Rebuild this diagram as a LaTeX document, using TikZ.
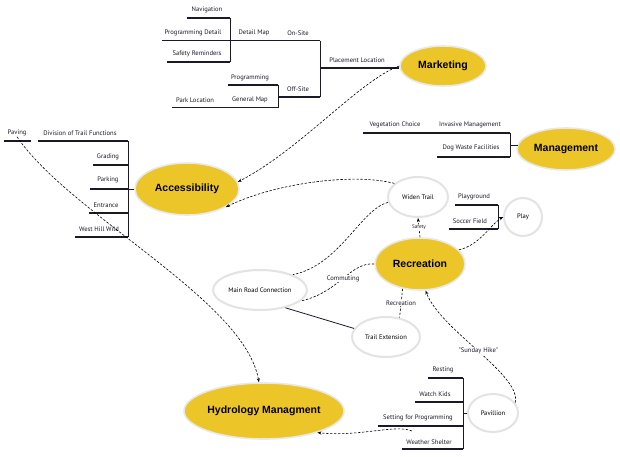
\documentclass[tikz,border=0pt]{standalone}
\usepackage{fontspec}
\setmainfont{Liberation Sans}
\newfontfamily\labfont{PT Sans}
\usetikzlibrary{arrows.meta,shapes.geometric}
\definecolor{gold}{RGB}{236,198,40}
\definecolor{ink}{RGB}{25,25,40}
\begin{document}
\begin{tikzpicture}[x=1pt,y=-1pt,
  big/.style={ellipse, fill=gold, draw=gray!18, line width=1.6pt, inner sep=0pt,
    font=\bfseries\fontsize{10.5}{12}\selectfont},
  sub/.style={ellipse, fill=white, draw=gray!22, line width=2pt, inner sep=0pt,
    font=\labfont\fontsize{6.6}{8}\selectfont},
  lab/.style={inner sep=0.5pt, font=\labfont\fontsize{6.6}{8}\selectfont, text=ink},
  clab/.style={inner sep=0.8pt, fill=white, font=\labfont\fontsize{6.6}{8}\selectfont, text=ink},
  uline/.style={line width=1.1pt, draw=ink},
  bline/.style={line width=0.8pt, draw=ink},
  dcon/.style={draw=black, line width=0.6pt, dash pattern=on 2.4pt off 1.6pt},
  arr/.style={-{Stealth[length=4pt,width=3pt]}}
]
\useasboundingbox (0,0) rectangle (620,456);

% ---------- big ellipses
\node[big, minimum width=86pt, minimum height=40pt] (marketing) at (443,66) {Marketing};
\node[big, minimum width=104pt, minimum height=52pt] (access) at (187,189) {Accessibility};
\node[big, minimum width=98pt, minimum height=42pt] (manage) at (566,149) {Management};
\node[big, minimum width=90pt, minimum height=52pt] (recre) at (420,264) {Recreation};
\node[big, minimum width=152pt, minimum height=56pt] (hydro) at (264,411) {Hydrology Managment};

% ---------- white ellipses
\node[sub, minimum width=60pt, minimum height=40pt] (widen) at (418,197) {Widen Trail};
\node[sub, minimum width=38pt, minimum height=38pt] (play) at (523,217) {Play};
\node[sub, minimum width=94pt, minimum height=40pt] (mainroad) at (260,290) {Main Road Connection};
\node[sub, minimum width=68pt, minimum height=40pt] (trailext) at (386,337) {Trail Extension};
\node[sub, minimum width=50pt, minimum height=38pt] (pav) at (493,413) {Pavillion};

% ---------- Marketing tree
\node[lab] (nav) at (207,10) {Navigation};
\node[lab] (progdet) at (193,33) {Programming Detail};
\node[lab] (safetyrem) at (197,54) {Safety Reminders};
\node[lab] (detmap) at (254,33) {Detail Map};
\node[lab] (onsite) at (298,33) {On-Site};
\node[lab] (prog) at (250,78) {Programming};
\node[lab] (genmap) at (250,100) {General Map};
\node[lab] (offsite) at (298,89) {Off-Site};
\node[lab] (parkloc) at (195,100) {Park Location};
\node[lab] (placement) at (357,60) {Placement Location};

\draw[uline] (187,18) -- (230,18);
\draw[uline] (162,40.5) -- (320,40.5);
\draw[uline] (167,62) -- (230,62);
\draw[bline] (230,18) -- (230,62);
\draw[bline] (320,40.5) -- (320,97);
\draw[uline] (278,97) -- (320,97);
\draw[uline] (320,68) -- (marketing.west |- 0,68);
\draw[uline] (228,85) -- (278,85);
\draw[uline] (172,107.5) -- (278,107.5);
\draw[bline] (278,85) -- (278,107.5);

% ---------- Accessibility tree
\node[lab] (paving) at (17,133) {Paving};
\node[lab] (division) at (80,133) {Division of Trail Functions};
\node[lab] (grading) at (108,157) {Grading};
\node[lab] (parking) at (108,180) {Parking};
\node[lab] (entrance) at (106,205) {Entrance};
\node[lab] (westhill) at (99,229) {West Hill Wild};

\draw[uline] (4,141) -- (31,141);
\draw[uline] (38,141) -- (128,141);
\draw[bline] (128,141) -- (128,237);
\draw[uline] (93,165) -- (128,165);
\draw[uline] (90,189) -- (128,189);
\draw[bline] (128,189) -- (access.west);
\draw[uline] (89,213) -- (128,213);
\draw[uline] (75,237) -- (128,237);

% ---------- Management tree
\node[lab] (veg) at (395,125) {Vegetation Choice};
\node[lab] (invasive) at (470,125) {Invasive Management};
\node[lab] (dog) at (471,148) {Dog Waste Facilities};

\draw[uline] (363,133) -- (510,133);
\draw[bline] (510,133) -- (510,157);
\draw[uline] (437,157) -- (510,157);
\draw[bline] (510,145) -- (517.5,145);

% ---------- Play tree
\node[lab] (playground) at (474,197) {Playground};
\node[lab] (soccer) at (470,221) {Soccer Field};
\draw[uline] (455,205) -- (498,205);
\draw[bline] (498,205) -- (498,229);
\draw[uline] (449,229) -- (498,229);
\draw[bline] (498,217) -- (play.west);

% ---------- Pavilion tree
\node[lab] (resting) at (443,370) {Resting};
\node[lab] (watch) at (435,394) {Watch Kids};
\node[lab] (setting) at (418,418) {Setting for Programming};
\node[lab] (weather) at (429,442) {Weather Shelter};
\draw[bline] (463,378) -- (463,449);
\draw[uline] (428,378) -- (463,378);
\draw[uline] (415,402) -- (463,402);
\draw[uline] (378,426) -- (463,426);
\draw[uline] (402,449) -- (463,449);
\draw[bline] (463,413) -- (pav.west);

% ---------- connectors
\draw[dcon, arr] (marketing.west) .. controls (360,80) and (300,150) .. (access.8);
\draw[dcon, arr] (widen.150) .. controls (350,172) and (270,185) .. (access.-25);
\draw[dcon] (widen.190) .. controls (360,210) and (340,265) .. (mainroad.25);
\draw[dcon] (recre.west) .. controls (350,262) and (340,292) .. node[clab] (commuting) {Commuting} (mainroad.-15);
\draw[dcon, arr] (recre.north) -- node[clab, font=\labfont\fontsize{5.2}{6}\selectfont] (safetylbl) {Safety} (widen.south);
\draw[dcon] (recre.235) -- node[clab] (reclbl) {Recreation} (trailext.55);
\draw[dcon, arr] (recre.20) .. controls (480,245) and (490,225) .. (play.west);
\draw[dcon, arr] (pav.25) .. controls (522,375) and (440,330) .. node[clab] (sunday) {"Sunday Hike"} (recre.-78);
\coordinate (hstart) at (412,431);
\draw[dcon, arr] (hstart) .. controls (395,424) and (360,437) .. (hydro.-22);
\draw[dcon, arr] (paving.south) .. controls (70,215) and (245,300) .. (hydro.100);
\draw[line width=0.8pt, draw=ink] (mainroad.-35) -- (trailext.165);
\end{tikzpicture}
\end{document}
